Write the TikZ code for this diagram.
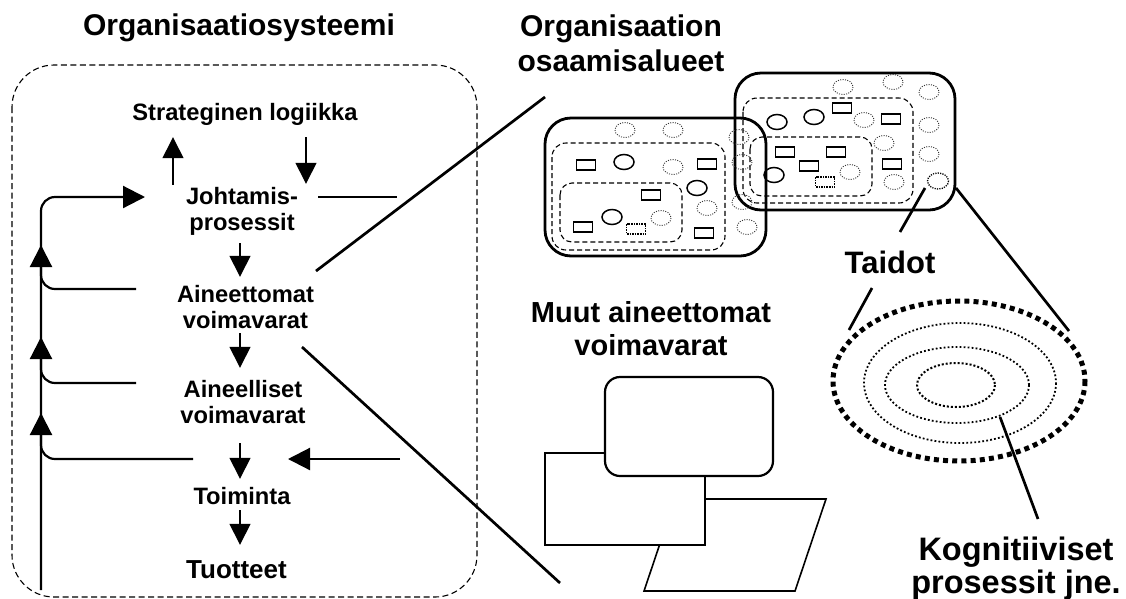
\documentclass[tikz,border=0pt]{standalone}
\usepackage{fontspec}
\setmainfont{Liberation Sans}
\usetikzlibrary{arrows.meta,shapes.geometric}
% centred block of lines whose baseline is the first line
\newcommand\stk[1]{\begin{tabular}[t]{@{}c@{}}#1\end{tabular}}
\begin{document}
\begin{tikzpicture}[x=1pt,y=-1pt,
  small/.style={inner sep=0pt, anchor=base, font=\fontsize{23.7}{26}\selectfont\bfseries},
  big/.style={inner sep=0pt, anchor=base, font=\fontsize{30}{35}\selectfont\bfseries},
  thinarr/.style={line width=1.4pt, -{Triangle[length=21pt,width=21pt]}},
  thickarr/.style={line width=2.2pt, -{Triangle[length=22pt,width=22pt]}},
  trunk/.style={line width=2.2pt},
  link/.style={line width=2.7pt},
  sysframe/.style={line width=1.1pt, dash pattern=on 6pt off 3.5pt},
  areaframe/.style={line width=2.8pt, rounded corners=26pt},
  subarea/.style={line width=1.1pt, dash pattern=on 5pt off 3pt, rounded corners=14pt},
  dotc/.style={line width=0.9pt, dash pattern=on 1pt off 1.4pt, black!80},
  solidc/.style={line width=1.5pt},
  item/.style={line width=1.3pt},
  qitem/.style={line width=1.9pt, dash pattern=on 1.6pt off 1pt},
  resshape/.style={line width=1.6pt, fill=white},
]
\useasboundingbox (0,0) rectangle (1126,598);

% ---------- organisation system ----------
\draw[sysframe, rounded corners=42pt] (12,65) rectangle (477,597);
\node[big] (title) at (239,35) {Organisaatiosysteemi};

\node[small] (sl) at (245,120) {\stk{Strateginen logiikka}};
\node[small] (jp) at (242,204) {\stk{Johtamis-\\prosessit}};
\node[small] (av) at (245.5,302) {\stk{Aineettomat\\voimavarat}};
\node[small] (ae) at (243,397) {\stk{Aineelliset\\voimavarat}};
\node[small] (to) at (242,504) {\stk{Toiminta}};
\node[small, font=\fontsize{26}{28}\selectfont\bfseries] (tu) at (236.5,578) {\stk{Tuotteet}};

\coordinate (xl) at (173,0);
\coordinate (xr) at (306,0);
\coordinate (xc) at (240,0);

\draw[thinarr, shorten <=0.8pt, shorten >=9.2pt] (jp.north -| xl) -- (sl.south -| xl);
\draw[thinarr, shorten <=9.2pt, shorten >=1.8pt] (sl.south -| xr) -- (jp.north -| xr);
\draw[thinarr, shorten <=5.2pt, shorten >=6.8pt] (jp.south -| xc) -- (av.north -| xc);
\draw[thinarr, shorten <=-2.8pt, shorten >=10.8pt] (av.south -| xc) -- (ae.north -| xc);
\draw[thinarr, shorten <=12.2pt, shorten >=6.8pt] (ae.south -| xc) -- (to.north -| xc);
\draw[thinarr, shorten <=-1.8pt, shorten >=13.4pt] (to.south -| xc) -- (tu.north -| xc);

% feedback trunk on the left
\coordinate (tb) at (41,590);
\coordinate (tj) at (145,197);
\draw[thickarr, rounded corners=14pt] (tb) -- (41,197) -- (tj);
\draw[thickarr] (41,470) -- (41,413);
\draw[thickarr] (41,395) -- (41,337);
\draw[thickarr] (41,300) -- (41,245);
\coordinate (b1) at (136,289);
\coordinate (b2) at (136,383);
\coordinate (b3) at (193,459);
\draw[trunk, rounded corners=14pt] (b1) -- (41,289) -- (41,260);
\draw[trunk, rounded corners=14pt] (b2) -- (41,383) -- (41,355);
\draw[trunk, rounded corners=14pt] (b3) -- (41,459) -- (41,430);

% lines leaving the system
\coordinate (h1) at (318,197);
\coordinate (h2) at (397,197);
\draw[trunk] (h1) -- (h2);
\coordinate (in1) at (400,459);
\coordinate (in2) at (288,459);
\draw[thickarr] (in1) -- (in2);
\coordinate (d1a) at (316,271);
\coordinate (d1b) at (545,97);
\draw[link] (d1a) -- (d1b);
\coordinate (d2a) at (302,347);
\coordinate (d2b) at (560,583);
\draw[link] (d2a) -- (d2b);

% ---------- competence areas ----------
\node[big] (oa) at (621,36) {\stk{Organisaation\\osaamisalueet}};

\draw[areaframe] (545,118) rectangle (766,256);
\draw[subarea] (552,143) rectangle (725,250);
\draw[subarea, rounded corners=12pt] (560,183) rectangle (682,242);

\draw[areaframe] (735,73) rectangle (955,210);
\draw[subarea] (743,98) rectangle (913,203);
\draw[subarea, rounded corners=12pt] (750,137) rectangle (872,196);

\foreach \p in {(625,130),(673,130),(673,167),(707,208),(661,218),(747,227),
                (739,137),(742,162),(742,202),
                (843,87),(893,82),(929,92),(864,120),(929,125),(884,143),
                (929,154),(850,172),(894,182)}
  \draw[dotc] \p ellipse [x radius=10, y radius=7.5];
\foreach \p in {(624,162),(697,188),(612,217),(777,122),(814,117),(774,175)}
  \draw[solidc] \p ellipse [x radius=10, y radius=7.5];
\foreach \x/\y in {586/165,707/164,651/195,583/227,704/233,
                   842/108,891/119,785/152,836/152,809/166,892/164}
  \draw[item] (\x-9.5,\y-5) rectangle (\x+9.5,\y+5);
\foreach \x/\y in {636/229,825/182}
  \draw[qitem] (\x-9.5,\y-5) rectangle (\x+9.5,\y+5);
\draw[line width=1.3pt, dash pattern=on 1.2pt off 1.2pt] (938,181) ellipse [x radius=10.5, y radius=8];

% ---------- skills ----------
\node[big, font=\fontsize{31}{35}\selectfont\bfseries] (td) at (890,273) {\stk{Taidot}};
\coordinate (s1a) at (925,188);
\coordinate (s1b) at (900,232);
\draw[link] (s1a) -- (s1b);
\coordinate (s2a) at (872,288);
\coordinate (s2b) at (849,330);
\draw[link] (s2a) -- (s2b);
\coordinate (s3a) at (956,188);
\coordinate (s3b) at (1069,331);
\draw[link] (s3a) -- (s3b);

\draw[line width=5pt, dash pattern=on 5pt off 4.2pt] (959,381) ellipse [x radius=126, y radius=80];
\draw[line width=1.8pt, dash pattern=on 1.8pt off 2.2pt] (960,383) ellipse [x radius=96, y radius=60];
\draw[line width=1.8pt, dash pattern=on 1.8pt off 2.2pt] (957,385) ellipse [x radius=72, y radius=38];
\draw[line width=2pt, dash pattern=on 2pt off 2pt] (956,385) ellipse [x radius=39, y radius=22];

\node[big, font=\fontsize{32.5}{33}\selectfont\bfseries] (kp) at (1016,560) {\stk{Kognitiiviset\\prosessit jne.}};
\coordinate (k1) at (1000,417);
\coordinate (k2) at (1038,519);
\draw[link] (k1) -- (k2);

% ---------- other intangible resources ----------
\node[big, font=\fontsize{29}{33}\selectfont\bfseries] (mv) at (651,322) {\stk{Muut aineettomat\\voimavarat}};
\draw[resshape] (644,591) -- (795,591) -- (826,499) -- (675,499) -- cycle;
\draw[resshape] (545,453) rectangle (705,545);
\draw[resshape, line width=2.2pt, rounded corners=15pt] (605,377) rectangle (773,476);
\end{tikzpicture}
\end{document}
